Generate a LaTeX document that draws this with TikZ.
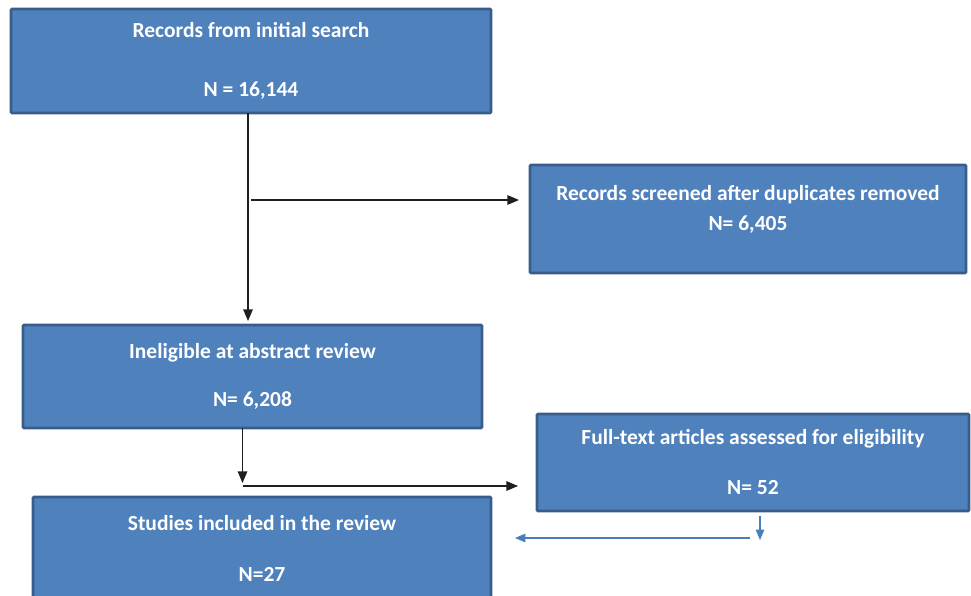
\documentclass[tikz,border=0pt]{standalone}
\usepackage{fontspec}
\setmainfont{Carlito}
\usepackage{tikz}
\usetikzlibrary{arrows,positioning}
\definecolor{boxfill}{HTML}{4F81BD}
\definecolor{boxline}{HTML}{385D8A}
\definecolor{flowblue}{HTML}{4A7EBB}

\begin{document}
\begin{tikzpicture} %
		[
			x=1pt, y=-1pt,
			font={\fontsize{21.5}{26}\selectfont\bfseries},
			every text node part/.style={align=center},
			stage/.style={
				draw=boxline,
				fill=boxfill,
				text=white,
				line width=2.8pt,
				rounded corners=1pt,
				inner sep=0pt,
				outer sep=0pt,
			},
			arch/.style={-triangle 45, line width=1.7pt, black!88},
			backarch/.style={-triangle 45, line width=1.4pt, flowblue},
		]
		\useasboundingbox (0,0) rectangle (971,596);
		\node[stage, anchor=north west, minimum width=480pt, minimum height=104pt] (s0) at (11,9)
		{Records from initial search\\[33pt]N = 16,144};
		\node[stage, below right=156pt and 39pt of s0.north east, minimum width=436pt, minimum height=108pt, text depth=22pt] (s1)
		{Records screened after duplicates removed\\[4pt]N= 6,405};
		\node[stage, below right=212pt and 12pt of s0.south west, minimum width=459pt, minimum height=103pt] (s2)
		{Ineligible at abstract review\\[22pt]N= 6,208};
		\node[stage, below right=141pt and 7pt of s1.south west, minimum width=432pt, minimum height=97pt] (s3)
		{Full-text articles assessed for eligibility\\[24pt]N= 52};
		\node[stage, below right=69pt and 10pt of s2.south west, minimum width=458pt, minimum height=103pt] (s4)
		{Studies included in the review\\[25pt]N=27};
		
		\coordinate (j1) at ([yshift=-87pt]s0.south);
		\coordinate (j2) at ([xshift=-10pt,yshift=-58pt]s2.south);
		\coordinate (j3) at ([xshift=7pt,yshift=-29pt]s3.south);
		\coordinate (j4) at ([xshift=-3pt,yshift=-27pt]s3.south);
		
		\draw[arch] ([xshift=-3pt]s0.south) 
			-- 
			([xshift=-3pt]s0.south |- s2.north)
			[shorten >=4pt];
		\draw[arch] (j1) -- (j1 -| s1.west) [shorten >=11pt];
		\draw[arch] ([xshift=-10pt]s2.south) -- (j2) [shorten >=3pt];
		\draw[arch] (j2) -- (j2 -| s3.west) [shorten >=19pt];
		% back towards the included studies
		\draw[backarch] ([xshift=7pt]s3.south) -- (j3) [shorten <=5pt];
		\draw[backarch] (j4) -- (j4 -| s4.east) [shorten >=24pt];
	\end{tikzpicture}
\end{document}
